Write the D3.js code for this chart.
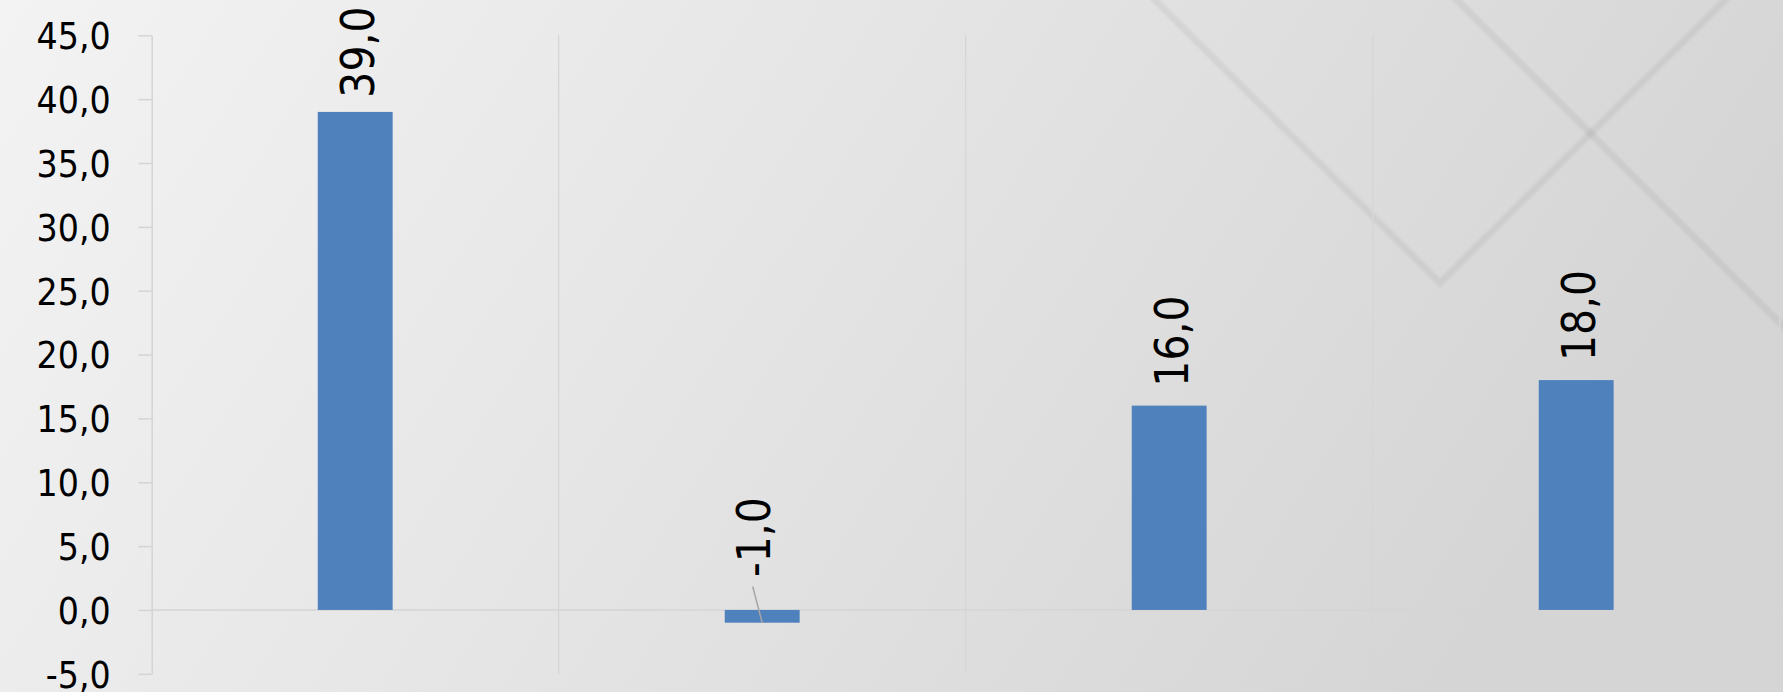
<!DOCTYPE html>
<html>
<head>
<meta charset="utf-8">
<script src="https://cdn.jsdelivr.net/npm/d3@7"></script>
<style>
  html, body { margin: 0; padding: 0; overflow: hidden; background: #e8e8e8; }
  svg { display: block; }
  .lbl { font-family: "DejaVu Sans Condensed", "DejaVu Sans", sans-serif; font-stretch: condensed; fill: #000; }
</style>
</head>
<body>
<svg id="chart" width="1783" height="692"></svg>
<script>
// Chart data
const categories = ["A", "B", "C", "D"];
const values = [39.0, -1.0, 16.0, 18.0];
const tickValues = [-5, 0, 5, 10, 15, 20, 25, 30, 35, 40, 45];
const yDomain = [-5, 45];

const W = 1783, H = 692;
const plot = { left: 151.7, right: 1779.7, top: 35.3, bottom: 673.8 };

const svg = d3.select("#chart");

// Background: soft grey gradient
const defs = svg.append("defs");
const grad = defs.append("linearGradient").attr("id", "bg")
  .attr("x1", 0).attr("y1", 0).attr("x2", 1).attr("y2", 0.25);
grad.append("stop").attr("offset", 0).attr("stop-color", "#f3f3f3");
grad.append("stop").attr("offset", 0.45).attr("stop-color", "#e6e6e6");
grad.append("stop").attr("offset", 1).attr("stop-color", "#d5d5d5");
defs.append("filter").attr("id", "soft")
  .append("feGaussianBlur").attr("stdDeviation", 1.2);

svg.append("rect").attr("width", W).attr("height", H).attr("fill", "url(#bg)");

// Decorative diagonal strokes in the background
const deco = svg.append("g").attr("filter", "url(#soft)")
  .attr("fill", "none").attr("stroke", "#000").attr("stroke-opacity", 0.055)
  .attr("stroke-width", 7).attr("stroke-linejoin", "miter");
deco.append("path").attr("d", "M1150,-5 L1440,283 L1730,-5");
deco.append("path").attr("d", "M1452,-5 L1790,333");

// Scales
const xBand = d3.scaleBand().domain(categories).range([plot.left, plot.right]).padding(0);
const xBar = d3.scaleBand().domain(categories).range([plot.left, plot.right])
  .paddingInner(0.816).paddingOuter(0.408);
const y = d3.scaleLinear().domain(yDomain).range([plot.bottom, plot.top]);

// Vertical category separators
svg.append("g").selectAll("line")
  .data(categories.slice(1).concat(["_end"]))
  .join("line")
  .attr("x1", (d, i) => xBand(categories[0]) + xBand.step() * (i + 1))
  .attr("x2", (d, i) => xBand(categories[0]) + xBand.step() * (i + 1))
  .attr("y1", plot.top).attr("y2", plot.bottom)
  .attr("stroke", "#d6d6d6").attr("stroke-width", 1.3);

// Zero line
svg.append("line")
  .attr("x1", plot.left).attr("x2", plot.right)
  .attr("y1", y(0)).attr("y2", y(0))
  .attr("stroke", "#d4d4d4").attr("stroke-width", 1.5);

// Y axis
const locale = d3.formatLocale({ decimal: ",", thousands: ".", grouping: [3], currency: ["", ""], minus: "-" });
const fmt = locale.format(".1f");
const yAxis = d3.axisLeft(y).tickValues(tickValues).tickFormat(fmt)
  .tickSize(13.4).tickSizeOuter(0).tickPadding(27.6);
const gy = svg.append("g").attr("transform", `translate(${plot.left},0)`).call(yAxis);
gy.select(".domain").attr("stroke", "#d4d4d4").attr("stroke-width", 1.5);
gy.selectAll(".tick line").attr("stroke", "#d4d4d4").attr("stroke-width", 1.5);
gy.selectAll(".tick text").attr("class", "lbl").attr("font-size", 37)
  .attr("dy", "0.36em").attr("fill", "#000");

// Bars
const data = categories.map((c, i) => ({ c, v: values[i] }));
svg.append("g").selectAll("rect").data(data).join("rect")
  .attr("x", d => xBar(d.c))
  .attr("width", xBar.bandwidth())
  .attr("y", d => y(Math.max(0, d.v)))
  .attr("height", d => Math.abs(y(d.v) - y(0)))
  .attr("fill", "#4f81bd");

// Value labels, rotated, above each bar
const labelGap = 19;
const labels = svg.append("g");
data.forEach(d => {
  const cx = xBar(d.c) + xBar.bandwidth() / 2;
  const t = labels.append("text").attr("class", "lbl").attr("font-size", 45.5)
    .text(fmt(d.v));
  const len = t.node().getComputedTextLength();
  let bx = cx + 19, by;
  if (d.v >= 0) {
    by = y(d.v) - labelGap;
    if (by - len < 6.5) by = 6.5 + len;
  } else {
    // Negative bar: label sits above the zero line with a leader line
    bx = cx + 8;
    by = y(0) - 33;
    labels.append("line")
      .attr("x1", bx - 17.5).attr("y1", by + 9.5)
      .attr("x2", cx).attr("y2", y(d.v))
      .attr("stroke", "#a6a6a6").attr("stroke-width", 1.5);
  }
  t.attr("transform", `translate(${bx},${by}) rotate(-90)`);
});
</script>
</body>
</html>
